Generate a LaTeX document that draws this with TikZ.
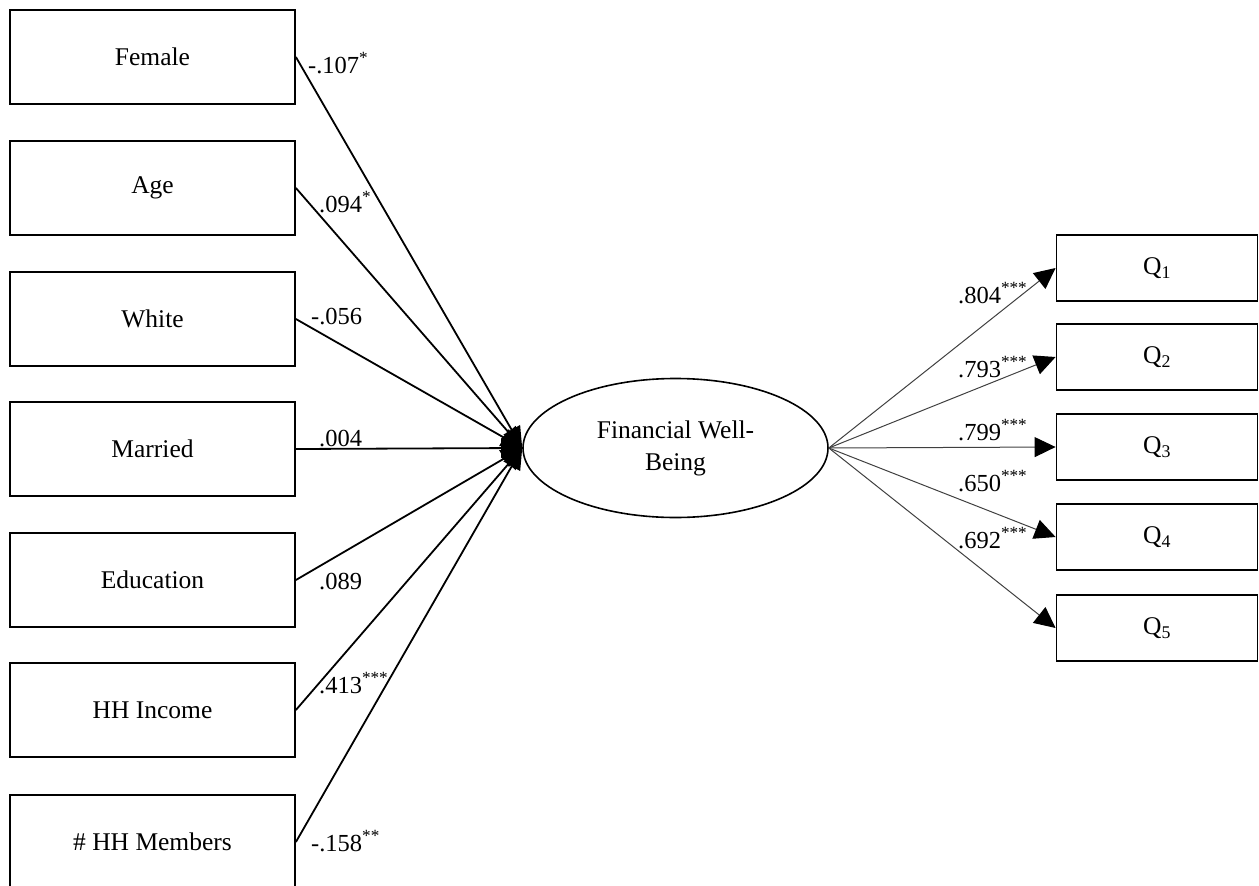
\documentclass[tikz,border=0pt]{standalone}
\usepackage{fontspec}
\setmainfont{Liberation Serif}
\usetikzlibrary{arrows.meta,shapes.geometric}
\begin{document}
\begin{tikzpicture}[x=1pt,y=-1pt,
  every node/.style={font=\fontsize{25.5}{32}\selectfont},
  varbox/.style={draw, line width=1.8pt, minimum width=285pt, minimum height=94pt, inner sep=0pt},
  qbox/.style={draw, line width=1.8pt, minimum width=201pt, minimum height=66pt, inner sep=0pt},
  latent/.style={draw, ellipse, line width=1.6pt, minimum width=305pt, minimum height=139pt, inner sep=0pt, align=center},
  inpath/.style={line width=1.8pt, -{Triangle[length=21pt,width=19pt]}},
  outpath/.style={line width=1pt, draw=black!75, -{Triangle[length=21pt,width=20pt,color=black]}},
  coef/.style={anchor=base west, inner sep=0pt, font=\fontsize{24.5}{30}\selectfont}
]
\useasboundingbox (0,0) rectangle (1259,886);

\node[varbox] (female) at (152.5,57) {Female};
\node[varbox] (age) at (152.5,188) {Age};
\node[varbox] (white) at (152.5,319) {White};
\node[varbox] (married) at (152.5,449) {Married};
\node[varbox] (edu) at (152.5,580) {Education};
\node[varbox] (inc) at (152.5,710) {HH Income};
\node[varbox] (mem) at (152.5,842) {\# HH Members};

\node[latent] (fwb) at (675.5,448) {\raisebox{-5pt}{\begin{tabular}{@{}c@{}}Financial Well-\\Being\end{tabular}}};

\node[qbox] (q1) at (1157,268) {Q\textsubscript{1}};
\node[qbox] (q2) at (1157,357) {Q\textsubscript{2}};
\node[qbox] (q3) at (1157,447) {Q\textsubscript{3}};
\node[qbox] (q4) at (1157,537) {Q\textsubscript{4}};
\node[qbox] (q5) at (1157,628) {Q\textsubscript{5}};

\foreach \n in {female,age,white,married,edu,inc,mem}
  \draw[inpath] (\n.east) -- (fwb.west);
\foreach \n in {q1,q2,q3,q4,q5}
  \draw[outpath] (fwb.east) -- (\n.west);

\node[coef] (c1) at (308,73) {-.107\textsuperscript{*}};
\node[coef] (c2) at (319,212) {.094\textsuperscript{*}};
\node[coef] (c3) at (311,324) {-.056};
\node[coef] (c4) at (319,446) {.004};
\node[coef] (c5) at (319,589) {.089};
\node[coef] (c6) at (319,693) {.413\textsuperscript{***}};
\node[coef] (c7) at (311,851) {-.158\textsuperscript{**}};

\node[coef] (d1) at (958,303) {.804\textsuperscript{***}};
\node[coef] (d2) at (958,377) {.793\textsuperscript{***}};
\node[coef] (d3) at (958,440) {.799\textsuperscript{***}};
\node[coef] (d4) at (958,491) {.650\textsuperscript{***}};
\node[coef] (d5) at (958,548) {.692\textsuperscript{***}};
\end{tikzpicture}
\end{document}
